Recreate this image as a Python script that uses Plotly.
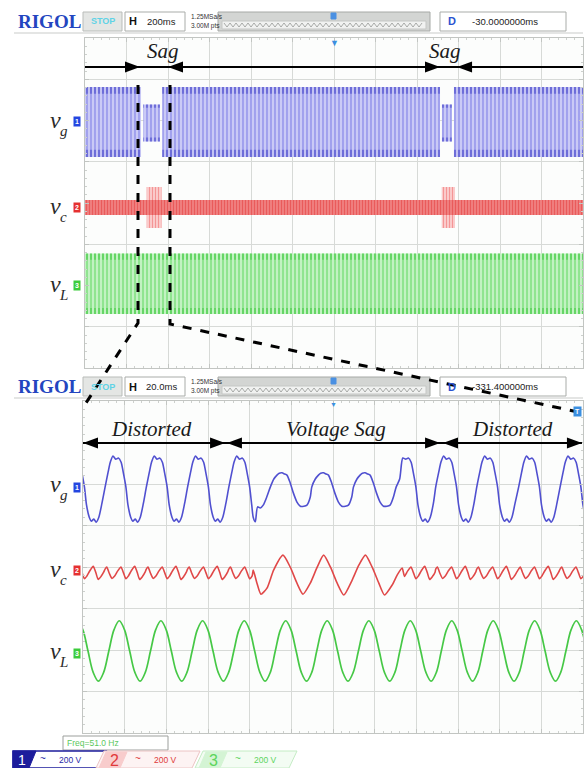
import plotly.graph_objects as go

W, H = 588, 768

# ================= DATA =================
# ---- top screen: 200 ms/div, 200 V/div (envelopes) ----
top_offsets = {"vg": 398, "vc": -24, "vL": -393}
top_vg_start = [0, 281, 372, 1720, 1778]
top_vg_end = [270, 361, 1711, 1768, 2400]
top_vg_upper = [165, 80, 165, 80, 165]
top_vg_lower = [-175, -100, -175, -100, -175]
top_vc_start = [0]
top_vc_end = [2400]
top_vc_upper = [38]
top_vc_lower = [-34]
top_vc_burst_start = [297, 1719]
top_vc_burst_end = [369, 1783]
top_vc_burst_upper = [102, 102]
top_vc_burst_lower = [-97, -97]
top_vL_start = [0]
top_vL_end = [2400]
top_vL_upper = [148]
top_vL_lower = [-145]

# ---- bottom screen: 20 ms/div, 200 V/div ----
bot_offsets = {"vg": 385, "vc": -15, "vL": -405}
# grid voltage, distorted cycle (phase in ms from rising zero, value in V)
vg_dist_phase = [0, 1.45, 2.5, 3.8, 5.1, 6.4, 7.7, 8.7, 10.0, 11.0, 12.3, 13.3, 14.5, 15.6, 16.9, 18.4]
vg_dist_val = [0, 72, 120, 150, 135, 140, 120, 72, 0, -87, -145, -164, -154, -169, -145, -77]
vg_dist_starts_pre = [-9.3, 10.6, 30.4, 50.2, 70.0]
vg_dist_starts_post = [149.8, 169.3, 189.0, 209.1, 229.0]
# grid voltage during the sag
vg_sag_phase = [0, 1.7, 3.2, 4.3, 5.6, 6.9, 8.0, 9.6, 11.1, 12.8, 14.4, 16.1, 17.6, 19.2]
vg_sag_val = [0, 39, 58, 67, 69, 63, 58, 19, -29, -72, -92, -92, -87, -48]
vg_sag_starts = [89.9, 109.8, 129.8, 150.3]
vg_sag_in_t = [81.7, 82.7, 83.8, 85.1, 86.5, 88.2]
vg_sag_in_v = [-145, -167, -95, -101, -87, -48]
vg_sag_out_t = [153.5]
vg_sag_out_v = [140]
# load voltage
vL_phase = [0, 2.5, 5.0, 7.5, 10.0, 12.5, 15.0, 17.5]
vL_val = [0, 103, 146, 103, 0, -103, -145, -103]
vL_starts = [-7.6, 12.4, 32.4, 52.4, 72.4, 92.3, 112.2, 132.2, 152.1, 172.0, 191.9, 211.8, 231.8]
# compensating voltage: harmonic ripple per grid cycle + sag injection
vc_rip_phase = [0, 0.8, 2.0, 3.3, 4.5, 6.0, 7.6, 8.8, 10.0, 11.2, 12.6, 14.2, 15.4, 16.6, 18.0, 19.2]
vc_rip_val = [5, 15, -15, -40, -30, -5, 15, -12, -42, -28, -3, 18, -10, -45, -30, -10]
vc_rip_starts_pre = [-9.3, 10.6, 30.4, 50.2, 70.0]
vc_rip_starts_post = [149.8, 169.3, 189.0, 209.1, 229.0]
vc_sag_t = [81.7, 83.5, 85.4, 88.3, 91.5, 96.0, 99.5, 102.7, 105.6, 109.1, 112.4, 115.5, 118.8,
            122.0, 125.2, 129.2, 132.4, 135.6, 138.8, 142.0, 144.7, 148.4, 150.8, 153.2]
vc_sag_v = [0, -63, -116, -87, 0, 72, 14, -63, -116, -63, 14, 72, 14, -63, -120, -48, 24, 72, 14,
            -63, -120, -72, -24, 10]

# ---- annotation text / positions (ms) ----
top_sag_text_ms = [376, 1735]
top_arrow_right_tips = [265, 1711]
top_arrow_left_tips = [400, 1793]
bot_labels = ["Distorted", "Voltage Sag", "Distorted"]
bot_label_ms = [33.1, 121.4, 206.0]
bot_arrow_right_tips = [68.2, 171.4, 239.5]
bot_arrow_left_tips = [0.0, 69.1, 172.8]

# ================= GEOMETRY =================
TOP = dict(x0=85, x1=583, y0=38, y1=368, t1=2400)
BOT = dict(x0=83, x1=583, y0=401, y1=733, t1=240)


def X(px):
    return px / W


def Y(py):
    return 1 - py / H


def tile(starts, phase, vals, t0, t1):
    xs, ys = [], []
    for s in starts:
        for p, v in zip(phase, vals):
            t = s + p
            if t0 <= t <= t1:
                xs.append(round(t, 3))
                ys.append(v)
    return xs, ys


fig = go.Figure()


def band(starts, ends, ups, lows, off, fg, bg, size, solid, xa, ya, lo=0.0, hi=1.0, edge=None):
    xs, ys = [], []
    for s, e, u, l in zip(starts, ends, ups, lows):
        if edge == "top":
            a, b = off + u * lo, off + u * hi
        elif edge == "bottom":
            a, b = off + l * hi, off + l * lo
        else:
            a, b = off + l, off + u
        xs += [s, e, e, s, s, None]
        ys += [b, b, a, a, b, None]
    fig.add_trace(go.Scatter(x=xs, y=ys, mode="lines", fill="toself", line=dict(width=0),
                             fillcolor=bg,
                             fillpattern=dict(shape="|", size=size, solidity=solid, fgcolor=fg, bgcolor=bg),
                             xaxis=xa, yaxis=ya, hoverinfo="skip"))


# ---- top screen bands ----
o = top_offsets
band(top_vL_start, top_vL_end, top_vL_upper, top_vL_lower, o["vL"], "#52d452", "#c2f2c2", 4, 0.45, "x", "y")
band(top_vL_start, top_vL_end, top_vL_upper, top_vL_lower, o["vL"], "#3cc83c", "rgba(0,0,0,0)", 4, 0.5, "x", "y", 0.8, 1.0, "top")
band(top_vL_start, top_vL_end, top_vL_upper, top_vL_lower, o["vL"], "#3cc83c", "rgba(0,0,0,0)", 4, 0.5, "x", "y", 0.8, 1.0, "bottom")

band(top_vg_start, top_vg_end, top_vg_upper, top_vg_lower, o["vg"], "#6a6ae2", "#cacaf6", 4, 0.42, "x", "y")
band(top_vg_start, top_vg_end, top_vg_upper, top_vg_lower, o["vg"], "#3a3ac4", "rgba(0,0,0,0)", 4, 0.55, "x", "y", 0.8, 1.0, "top")
band(top_vg_start, top_vg_end, top_vg_upper, top_vg_lower, o["vg"], "#3a3ac4", "rgba(0,0,0,0)", 4, 0.55, "x", "y", 0.8, 1.0, "bottom")

band(top_vc_burst_start, top_vc_burst_end, top_vc_burst_upper, top_vc_burst_lower, o["vc"], "#ee5555", "#fbd4d4", 3, 0.45, "x", "y")
band(top_vc_start, top_vc_end, top_vc_upper, top_vc_lower, o["vc"], "#e02828", "#f28e8e", 3, 0.55, "x", "y")

# ---- bottom screen traces ----
b = bot_offsets
x1, y1 = tile(vg_dist_starts_pre, vg_dist_phase, vg_dist_val, -5, 81.5)
x2, y2 = tile(vg_sag_starts, vg_sag_phase, vg_sag_val, 89.0, 152.6)
x3, y3 = tile(vg_dist_starts_post, vg_dist_phase, vg_dist_val, 154.0, 245)
vg_t = x1 + vg_sag_in_t + x2 + vg_sag_out_t + x3
vg_v = [v + b["vg"] for v in (y1 + vg_sag_in_v + y2 + vg_sag_out_v + y3)]

c1, d1 = tile(vc_rip_starts_pre, vc_rip_phase, vc_rip_val, -5, 81.6)
c3, d3 = tile(vc_rip_starts_post, vc_rip_phase, vc_rip_val, 153.6, 245)
vc_t = c1 + vc_sag_t + c3
vc_v = [v + b["vc"] for v in (d1 + vc_sag_v + d3)]

vL_t, m1 = tile(vL_starts, vL_phase, vL_val, -10, 250)
vL_v = [v + b["vL"] for v in m1]

fig.add_trace(go.Scatter(x=vL_t, y=vL_v, mode="lines", line=dict(color="#46c846", width=1.7, shape="spline", smoothing=1.0),
                         xaxis="x2", yaxis="y2", hoverinfo="skip"))
fig.add_trace(go.Scatter(x=vc_t, y=vc_v, mode="lines", line=dict(color="#e04848", width=1.6, shape="spline", smoothing=0.6),
                         xaxis="x2", yaxis="y2", hoverinfo="skip"))
fig.add_trace(go.Scatter(x=vg_t, y=vg_v, mode="lines", line=dict(color="#5050d0", width=1.6, shape="spline", smoothing=0.7),
                         xaxis="x2", yaxis="y2", hoverinfo="skip"))


# ================= AXES =================
def ax(domain, rng, dtick, minor):
    return dict(domain=domain, range=rng, dtick=dtick, tick0=0,
                showgrid=True, gridcolor="#d7dad7", gridwidth=1, zeroline=False, showticklabels=False,
                showline=True, linecolor="#c2c5c2", linewidth=1, mirror="ticks", ticks="inside",
                ticklen=4, tickcolor="#c2c5c2", fixedrange=True,
                minor=dict(dtick=minor, ticks="inside", ticklen=2, tickcolor="#cdd0cd", showgrid=False))


fig.update_layout(
    width=W, height=H, margin=dict(l=0, r=0, t=0, b=0), showlegend=False,
    paper_bgcolor="white", plot_bgcolor="#fcfdfc",
    xaxis=ax([X(TOP["x0"]), X(TOP["x1"])], [0, TOP["t1"]], 200, 40),
    yaxis=ax([Y(TOP["y1"]), Y(TOP["y0"])], [-800, 800], 200, 40),
    xaxis2=ax([X(BOT["x0"]), X(BOT["x1"])], [0, BOT["t1"]], 20, 4),
    yaxis2=ax([Y(BOT["y1"]), Y(BOT["y0"])], [-800, 800], 200, 40),
)
fig.layout.yaxis.anchor = "x"
fig.layout.yaxis2.anchor = "x2"
fig.layout.xaxis2.anchor = "y2"

shapes = []
ann = []

TOPMS = TOP["t1"] / (TOP["x1"] - TOP["x0"])
TOPV = 1600 / (TOP["y1"] - TOP["y0"])
BOTMS = BOT["t1"] / (BOT["x1"] - BOT["x0"])
BOTV = 1600 / (BOT["y1"] - BOT["y0"])


def arrowhead(xr, yr, tip, yv, direction, msppx, vppx, L=15, hh=5.5):
    base = tip - direction * L * msppx
    p = f"M {tip},{yv} L {base},{yv + hh * vppx} L {base},{yv - hh * vppx} Z"
    shapes.append(dict(type="path", path=p, xref=xr, yref=yr, fillcolor="black", line=dict(width=0)))


# ---- top: Sag arrows ----
top_arrow_v = ((TOP["y0"] + TOP["y1"]) / 2 - 67) * TOPV
shapes.append(dict(type="line", xref="x", yref="y", x0=0, x1=TOP["t1"], y0=top_arrow_v, y1=top_arrow_v,
                   line=dict(color="black", width=2.2)))
for t in top_arrow_right_tips:
    arrowhead("x", "y", t, top_arrow_v, 1, TOPMS, TOPV)
for t in top_arrow_left_tips:
    arrowhead("x", "y", t, top_arrow_v, -1, TOPMS, TOPV)
for t in top_sag_text_ms:
    ann.append(dict(x=t, y=((TOP["y0"] + TOP["y1"]) / 2 - 51) * TOPV, xref="x", yref="y", text="<i>Sag</i>",
                    showarrow=False, font=dict(family="Liberation Serif", size=21, color="#1a1a1a")))

# ---- bottom: Distorted / Voltage Sag arrows ----
bot_arrow_v = ((BOT["y0"] + BOT["y1"]) / 2 - 443) * BOTV
shapes.append(dict(type="line", xref="x2", yref="y2", x0=0, x1=BOT["t1"] - 0.5, y0=bot_arrow_v, y1=bot_arrow_v,
                   line=dict(color="black", width=2.2)))
for t in bot_arrow_right_tips:
    arrowhead("x2", "y2", t, bot_arrow_v, 1, BOTMS, BOTV)
for t in bot_arrow_left_tips:
    arrowhead("x2", "y2", t, bot_arrow_v, -1, BOTMS, BOTV)
for txt, t in zip(bot_labels, bot_label_ms):
    ann.append(dict(x=t, y=((BOT["y0"] + BOT["y1"]) / 2 - 429) * BOTV, xref="x2", yref="y2", text=f"<i>{txt}</i>",
                    showarrow=False, font=dict(family="Liberation Serif", size=21, color="#1a1a1a")))


def txt(x, y, s, size, color, fam="Liberation Sans", anchor="center", bold=False, italic=False, **kw):
    if bold:
        s = f"<b>{s}</b>"
    if italic:
        s = f"<i>{s}</i>"
    d = dict(x=X(x), y=Y(y), xref="paper", yref="paper", text=s, showarrow=False, xanchor=anchor,
             yanchor="middle", font=dict(family=fam, size=size, color=color))
    d.update(kw)
    ann.append(d)


# ---- headers ----
def header(y0, hdiv, dtext):
    def rect(x0, x1, ya, yb, fill, line, w=1):
        shapes.append(dict(type="rect", xref="paper", yref="paper", x0=X(x0), x1=X(x1), y0=Y(yb), y1=Y(ya),
                           fillcolor=fill, line=dict(color=line, width=w)))

    txt(49, y0 + 9.5, "RIGOL", 19, "#2345c0", fam="Liberation Serif", bold=True)
    rect(83, 122, y0, y0 + 19, "#e4e6e4", "#b9bcb9")
    txt(102.5, y0 + 9.5, "STOP", 9, "#5fd3e6", bold=True)
    rect(125, 185, y0, y0 + 19, "white", "#a9aca9")
    txt(133, y0 + 9.5, "H", 11, "#111", bold=True)
    txt(161, y0 + 9.5, hdiv, 9.5, "#222")
    txt(189, y0 + 5, "1.25MSa/s", 6.5, "#333", anchor="left")
    txt(189, y0 + 14, "3.00M pts", 6.5, "#333", anchor="left")
    rect(218, 430, y0, y0 + 19, "#d3d5d3", "#a6a9a6")
    rect(222, 426, y0 + 9, y0 + 17, "#f1f2f1", "#c5c7c5")
    pts = []
    xx, up = 224, True
    while xx < 423:
        pts.append((xx, y0 + (11 if up else 15)))
        xx += 3
        up = not up
    path = "M " + " L ".join(f"{X(a)},{Y(c)}" for a, c in pts)
    shapes.append(dict(type="path", xref="paper", yref="paper", path=path, line=dict(color="#8a8c8a", width=0.7)))
    rect(331, 336, y0 + 1, y0 + 7, "#4a90e2", "#4a90e2")
    rect(440, 566, y0, y0 + 19, "white", "#a9aca9")
    txt(452, y0 + 9.5, "D", 11, "#2a52d0", bold=True)
    txt(505, y0 + 9.5, dtext, 9.5, "#222")
    shapes.append(dict(type="line", xref="paper", yref="paper", x0=X(14), x1=X(583), y0=Y(y0 + 21), y1=Y(y0 + 21),
                       line=dict(color="#c9cbc9", width=1)))


header(12, "200ms", "-30.0000000ms")
header(377, "20.0ms", "-331.400000ms")

# trigger markers
txt(334, 43, "▼", 9, "#3b8fe0")
txt(333, 404, "▼", 7, "#3b8fe0")
txt(577, 411, "T", 7, "white", bold=True, bgcolor="#3b8fe0", borderpad=1)


# ---- channel labels & tags ----
def chlabel(y, sub):
    txt(55, y - 3, "v", 24, "#2a2a2a", fam="Liberation Serif", italic=True)
    txt(63.5, y + 8, sub, 15, "#2a2a2a", fam="Liberation Serif", italic=True)


def tag(y, n, color):
    txt(77, y, n, 7, "white", bold=True, bgcolor=color, borderpad=1)


for (yl, sub), (yt, n, colr) in zip([(123, "g"), (209, "c"), (287, "L")],
                                     [(121, "1", "#2446e0"), (208, "2", "#e53030"), (285, "3", "#3ccc3c")]):
    chlabel(yl, sub)
    tag(yt, n, colr)
for (yl, sub), (yt, n, colr) in zip([(487, "g"), (572, "c"), (654, "L")],
                                     [(487, "1", "#2446e0"), (570, "2", "#e53030"), (653, "3", "#3ccc3c")]):
    chlabel(yl, sub)
    tag(yt, n, colr)

# ---- zoom dashed lines ----
for pts in ([(138, 85), (138, 323), (84, 406)], [(170, 85), (170, 324), (578, 412)]):
    path = "M " + " L ".join(f"{X(a)},{Y(c)}" for a, c in pts)
    shapes.append(dict(type="path", xref="paper", yref="paper", path=path,
                       line=dict(color="black", width=3, dash="dash")))

# ---- footer ----
shapes.append(dict(type="rect", xref="paper", yref="paper", x0=X(63), x1=X(168), y0=Y(750), y1=Y(736),
                   fillcolor="white", line=dict(color="#9c9f9c", width=1)))
txt(65, 743, "Freq=51.0 Hz", 8.5, "#5cc85c", anchor="left")


def poly(pts, fill, line, w=1):
    path = "M " + " L ".join(f"{X(a)},{Y(c)}" for a, c in pts) + " Z"
    shapes.append(dict(type="path", xref="paper", yref="paper", path=path, fillcolor=fill,
                       line=dict(color=line, width=w)))


poly([(13, 751), (106, 751), (98, 768), (13, 768)], "white", "#1c1c9c", 1.6)
poly([(13, 751), (36, 751), (29, 768), (13, 768)], "#1c1c9c", "#1c1c9c", 1)
poly([(104, 751), (200, 751), (192, 768), (96, 768)], "#fdf3f3", "#ecc4c4", 1)
poly([(106, 752), (127, 752), (120, 768), (99, 768)], "#f8cccc", "#f8cccc", 1)
poly([(203, 751), (297, 751), (289, 768), (195, 768)], "#f3fcf3", "#c4ecc4", 1)
poly([(206, 752), (227, 752), (220, 768), (199, 768)], "#d4f4d4", "#d4f4d4", 1)

for x, n, col, sz in [(22, "1", "white", 14), (114, "2", "#e03a3a", 16), (213, "3", "#5cd45c", 16)]:
    txt(x, 760, n, sz, col)
for x, col in [(43, "#2a2aa8"), (138, "#e03a3a"), (238, "#5cd45c")]:
    txt(x, 758, "~", 10, col)
    txt(x + 27, 760, "200 V", 8.5, col)

fig.update_layout(shapes=shapes, annotations=ann)
fig.write_html("out.html")
